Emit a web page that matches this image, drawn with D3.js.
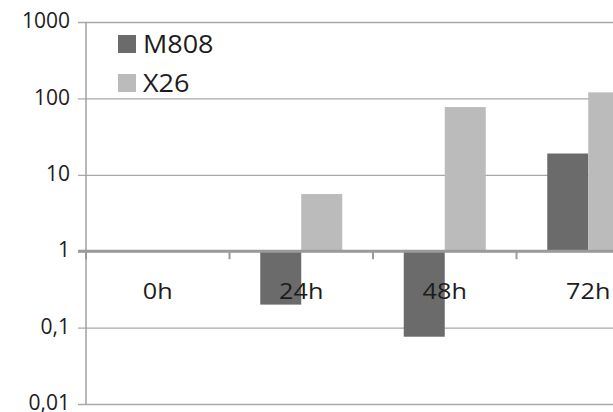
<!DOCTYPE html>
<html>
<head>
<meta charset="utf-8">
<script src="https://cdn.jsdelivr.net/npm/d3@7"></script>
<style>
  html, body { margin: 0; padding: 0; background: #fff; overflow: hidden; }
  svg { display: block; font-family: "Open Sans", sans-serif; }
</style>
</head>
<body>
<svg id="chart" width="613" height="412"></svg>
<script>
// Time points and the two strains (fold change, log scale, baseline 1)
const categories = ["0h", "24h", "48h", "72h"];
const seriesNames = ["M808", "X26"];
const m808 = [1, 0.2, 0.076, 19];
const x26 = [1, 5.6, 77, 120];
const yTicks = [0.01, 0.1, 1, 10, 100, 1000];
const yTickLabels = ["0,01", "0,1", "1", "10", "100", "1000"];
const colors = ["#6b6b6b", "#bbbbbb"];

const svg = d3.select("#chart");

const plotLeft = 86, step = 143.5;
const y = d3.scaleLog().domain([0.01, 1000]).range([404, 22]);
const x = d3.scaleBand().domain(categories)
  .range([plotLeft, plotLeft + step * categories.length]).padding(0);
const xs = d3.scaleBand().domain(seriesNames)
  .range([0, x.bandwidth()]).paddingInner(0).paddingOuter(0.75);

const values = [m808, x26];
const rows = [];
categories.forEach((c, i) => seriesNames.forEach((s, j) => rows.push({c, s, j, v: values[j][i]})));

// Horizontal gridlines with the y axis (labels on the left)
const yAxis = d3.axisLeft(y).tickValues(yTicks)
  .tickFormat((d, i) => yTickLabels[i])
  .tickSize(-(700 - plotLeft)).tickPadding(16);
const gy = svg.append("g").attr("transform", `translate(${plotLeft},0)`).call(yAxis);
gy.select(".domain").remove();
gy.selectAll(".tick line").attr("x1", -8).attr("x2", 700 - plotLeft)
  .attr("stroke", "#a8a8a8").attr("stroke-width", 1.3);
gy.selectAll(".tick text").attr("font-size", 21).attr("fill", "#1c1c1c")
  .attr("font-family", "'Open Sans', sans-serif").attr("dy", "0.27em");

// Vertical axis line
svg.append("line").attr("x1", plotLeft).attr("x2", plotLeft)
  .attr("y1", y(1000)).attr("y2", y(0.01))
  .attr("stroke", "#a0a0a0").attr("stroke-width", 1.5);

// Bars from the baseline at 1
svg.append("g").selectAll("rect").data(rows.filter(d => d.v !== 1)).join("rect")
  .attr("x", d => x(d.c) + xs(d.s))
  .attr("width", xs.bandwidth())
  .attr("y", d => Math.min(y(d.v), y(1)))
  .attr("height", d => Math.abs(y(d.v) - y(1)))
  .attr("fill", d => colors[d.j]);

// Category axis on the baseline (value 1)
const xAxis = d3.axisBottom(x).tickSize(0).tickPadding(0);
const gx = svg.append("g").attr("transform", `translate(0,${y(1)})`).call(xAxis);
gx.select(".domain").remove();
gx.selectAll(".tick text").attr("font-size", 21).attr("fill", "#1c1c1c")
  .attr("font-family", "'Open Sans', sans-serif")
  .attr("dy", null).attr("y", 48)
  .attr("transform", "scale(1.2,1)");

// Baseline and category boundary ticks
svg.append("line").attr("x1", plotLeft - 8).attr("x2", 700)
  .attr("y1", y(1)).attr("y2", y(1))
  .attr("stroke", "#9a9a9a").attr("stroke-width", 3);
svg.append("g").selectAll("line").data(categories).join("line")
  .attr("x1", d => x(d)).attr("x2", d => x(d))
  .attr("y1", y(1)).attr("y2", y(1) + 8)
  .attr("stroke", "#9a9a9a").attr("stroke-width", 2);

// Legend
const legend = svg.append("g").selectAll("g").data(seriesNames).join("g")
  .attr("transform", (d, i) => `translate(118,${35 + i * 39})`);
legend.append("rect").attr("width", 18).attr("height", 18)
  .attr("fill", (d, i) => colors[i]);
legend.append("text").attr("transform", "translate(25,17.5) scale(1.08,1)")
  .attr("font-size", 25).attr("fill", "#1c1c1c").text(d => d);
</script>
</body>
</html>
